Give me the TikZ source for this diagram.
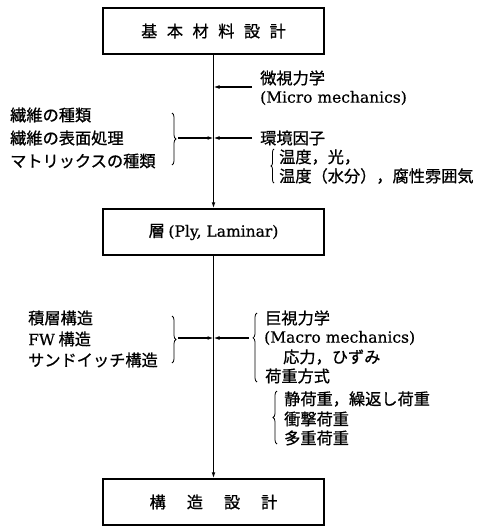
\documentclass[tikz,border=0pt]{standalone}
\usepackage{fontspec}
\setmainfont{DejaVu Serif}[FakeBold=0.6]
\newfontfamily\jp{Noto Sans CJK JP}[FakeBold=0.8]
\usetikzlibrary{arrows.meta,decorations.pathreplacing}
\newcommand{\latn}[1]{{\rmfamily\fontsize{15.5}{18}\selectfont #1}}
\begin{document}
\begin{tikzpicture}[x=1pt,y=-1pt,
  box/.style={draw,line width=1.5pt,minimum width=221pt,minimum height=46pt,inner sep=0pt,font=\jp\fontsize{16.2}{18}\selectfont},
  lbl/.style={anchor=west,inner sep=0pt,font=\jp\fontsize{16.2}{18}\selectfont},
  conn/.style={line width=1.1pt,-{Latex[length=6pt,width=3.8pt]}},
  brc/.style={decorate,decoration={brace,amplitude=4pt},line width=0.8pt}
]
\useasboundingbox (0,0) rectangle (479,527);
% boxes
\node[box] (b1) at (213.5,31) {基\hspace{9.5pt}本\hspace{9.5pt}材\hspace{9.5pt}料\hspace{9.5pt}設\hspace{9.5pt}計};
\node[box] (b2) at (213.5,232) {層 \latn{(Ply, Laminar)}};
\node[box] (b3) at (213.5,502) {構\hspace{21pt}造\hspace{21pt}設\hspace{21pt}計};
% main line
\draw[conn] (b1.south) -- (b2.north);
\draw[conn] (b2.south) -- (b3.north);
% points on the main line
\coordinate (m1) at (213.5,87);
\coordinate (m2) at (213.5,138);
\coordinate (m3) at (213.5,338);
% upper right
\node[lbl] (micro) at (260,78) {微視力学};
\node[lbl] (microen) at (260,98) {\latn{(Micro mechanics)}};
\coordinate (r1) at (252,87);
\draw[conn] (r1) -- (m1);
\node[lbl] (env) at (260,138) {環境因子};
\coordinate (r2) at (252,138);
\draw[conn] (r2) -- (m2);
\node[lbl] (temp1) at (279,157) {温度，光，};
\node[lbl] (temp2) at (279,176) {温度（水分），腐性雰囲気};
\coordinate (be1) at (274,183);
\coordinate (be2) at (274,149);
\draw[brc,decoration={amplitude=3pt}] (be1) -- (be2);
% upper left
\node[lbl] (f1) at (10,115) {繊維の種類};
\node[lbl] (f2) at (10,138) {繊維の表面処理};
\node[lbl] (f3) at (10,161) {マトリックスの種類};
\coordinate (bl1) at (172,113);
\coordinate (bl2) at (172,165);
\draw[brc] (bl1) -- (bl2);
\coordinate (l2) at (178,138);
\draw[conn] (l2) -- (m2);
% lower left
\node[lbl] (s1) at (28,318) {積層構造};
\node[lbl] (s2) at (28,339) {\latn{FW} 構造};
\node[lbl] (s3) at (28,360) {サンドイッチ構造};
\coordinate (bm1) at (172,316);
\coordinate (bm2) at (172,363);
\draw[brc] (bm1) -- (bm2);
\coordinate (l3) at (178,338);
\draw[conn] (l3) -- (m3);
% lower right
\coordinate (r3) at (249,338);
\draw[conn] (r3) -- (m3);
\coordinate (br1) at (257,382);
\coordinate (br2) at (257,313);
\draw[brc,decoration={aspect=0.64}] (br1) -- (br2);
\node[lbl] (mac) at (265,318) {巨視力学};
\node[lbl] (macen) at (264,338) {\latn{(Macro mechanics)}};
\node[lbl] (stress) at (283,357) {応力，ひずみ};
\node[lbl] (load) at (265,376) {荷重方式};
\coordinate (bs1) at (277,444);
\coordinate (bs2) at (277,391);
\draw[brc] (bs1) -- (bs2);
\node[lbl] (ld1) at (284,399) {静荷重，繰返し荷重};
\node[lbl] (ld2) at (284,419) {衝撃荷重};
\node[lbl] (ld3) at (284,438) {多重荷重};
\end{tikzpicture}
\end{document}
